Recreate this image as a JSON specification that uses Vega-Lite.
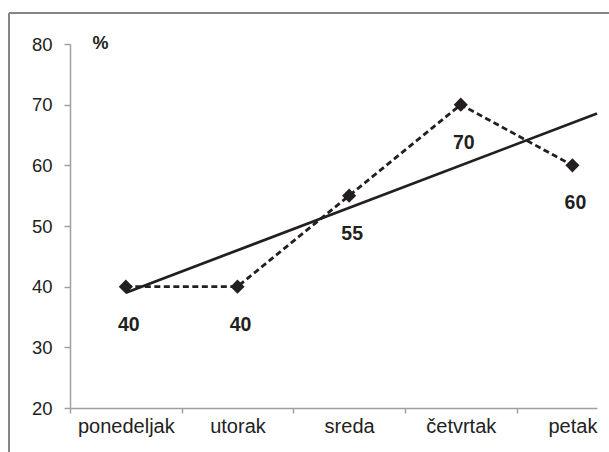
{
  "$schema": "https://vega.github.io/schema/vega-lite/v6.json",
  "autosize": {"type": "none"},
  "padding": {"left": 9, "top": 13, "right": 0, "bottom": 0},
  "width": 600,
  "height": 439,
  "background": "white",
  "config": {
    "view": {"stroke": "#858585", "strokeWidth": 2, "strokeDash": [600, 1039, 439, 0]},
    "font": "Liberation Sans"
  },
  "data": {
    "values": [
      {"dan": "ponedeljak", "i": 0, "v": 40},
      {"dan": "utorak", "i": 1, "v": 40},
      {"dan": "sreda", "i": 2, "v": 55},
      {"dan": "četvrtak", "i": 3, "v": 70},
      {"dan": "petak", "i": 4, "v": 60}
    ]
  },
  "encoding": {
    "x": {
      "field": "i",
      "type": "quantitative",
      "scale": {"domain": [-0.5, 4.22], "range": [61, 588], "nice": false, "zero": false},
      "axis": {
        "title": null,
        "offset": -44,
        "values": [-0.5, 0, 0.5, 1, 1.5, 2, 2.5, 3, 3.5, 4],
        "labelExpr": "datum.value % 1 === 0 ? ['ponedeljak','utorak','sreda','četvrtak','petak'][datum.value] : ''",
        "tickOpacity": {"condition": {"test": "datum.value % 1 === 0", "value": 0}, "value": 1},
        "labelOverlap": false,
        "labelFlush": false,
        "grid": false,
        "domainColor": "#a0a0a0",
        "domainWidth": 1.5,
        "tickColor": "#a0a0a0",
        "tickWidth": 1.5,
        "tickSize": 5,
        "labelPadding": 3,
        "labelFontSize": 20,
        "labelColor": "#222222",
        "labelFont": "Liberation Sans"
      }
    },
    "y": {
      "field": "v",
      "type": "quantitative",
      "scale": {"domain": [20, 80], "range": [395, 31], "nice": false, "zero": false},
      "axis": {
        "title": "%",
        "titleAngle": 0,
        "titleAlign": "left",
        "titleBaseline": "middle",
        "titleX": 22,
        "titleY": 30,
        "titleFontSize": 18,
        "titleFontWeight": "bold",
        "titleColor": "#222222",
        "titleFont": "Liberation Sans",
        "offset": -61,
        "values": [20, 30, 40, 50, 60, 70, 80],
        "grid": false,
        "domainColor": "#a0a0a0",
        "domainWidth": 1.5,
        "tickColor": "#a0a0a0",
        "tickWidth": 1.5,
        "tickSize": 6,
        "labelPadding": 12,
        "labelFontSize": 18.5,
        "labelColor": "#222222",
        "labelFont": "Liberation Sans"
      }
    }
  },
  "layer": [
    {
      "transform": [{"regression": "v", "on": "i", "extent": [0, 4.22]}],
      "mark": {"type": "line", "color": "#231f20", "strokeWidth": 2.75, "clip": true}
    },
    {
      "mark": {"type": "line", "color": "#231f20", "strokeWidth": 2.75, "strokeDash": [6, 3.5]}
    },
    {
      "mark": {"type": "point", "shape": "diamond", "filled": true, "color": "#231f20", "opacity": 1, "size": 200}
    },
    {
      "mark": {"type": "text", "dy": 38, "dx": 3, "fontSize": 19.5, "fontWeight": "bold", "color": "#231f20", "font": "Liberation Sans", "baseline": "middle"},
      "encoding": {"text": {"field": "v", "type": "quantitative"}}
    }
  ]
}
